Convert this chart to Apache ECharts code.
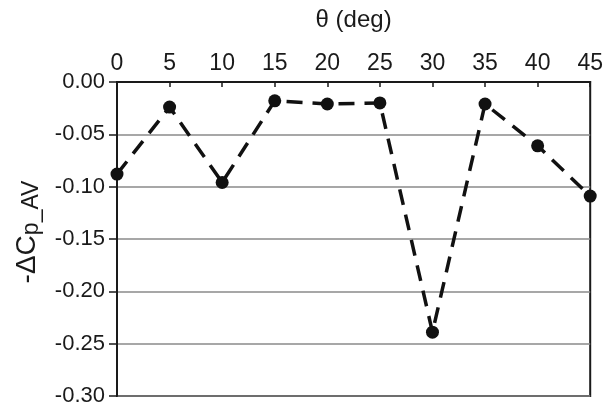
<!DOCTYPE html>
<html>
<head>
<meta charset="utf-8">
<script src="https://cdn.jsdelivr.net/npm/echarts@6/dist/echarts.min.js"></script>
<style>
  html, body { margin: 0; padding: 0; background: #ffffff; }
  #chart { width: 606px; height: 412px; }
</style>
</head>
<body>
<div id="chart"></div>
<script>
// Incidence angle (deg) and the averaged pressure-coefficient change
const thetaDeg = [0, 5, 10, 15, 20, 25, 30, 35, 40, 45];
const deltaCpAv = [-0.088, -0.024, -0.096, -0.018, -0.021, -0.020, -0.239, -0.021, -0.061, -0.109];
const yTicks = [0.00, -0.05, -0.10, -0.15, -0.20, -0.25, -0.30];

const FONT = '"Liberation Sans", Arial, sans-serif';
const INK = '#1a1a1a';
const points = thetaDeg.map((t, i) => [t, deltaCpAv[i]]);

const chart = echarts.init(document.getElementById('chart'), null, { renderer: 'canvas' });
chart.setOption({
  backgroundColor: '#ffffff',
  animation: false,
  grid: {
    left: 117, top: 82, width: 477, height: 314,
    show: true, borderColor: INK, borderWidth: 2, backgroundColor: 'transparent'
  },
  xAxis: {
    type: 'value',
    position: 'top',
    min: 0, max: 45, interval: 5,
    name: 'θ (deg)',
    nameLocation: 'middle',
    nameGap: 50,
    nameTextStyle: { fontFamily: FONT, fontSize: 24, color: INK },
    axisLine: { show: true, lineStyle: { color: INK, width: 2 } },
    axisTick: { show: true, inside: true, length: 5, lineStyle: { color: INK, width: 1.5 } },
    axisLabel: { fontFamily: FONT, fontSize: 23, color: INK, margin: 7 },
    splitLine: { show: false }
  },
  yAxis: {
    type: 'value',
    min: -0.30, max: 0, interval: 0.05,
    name: '{a|-ΔC}{b|p_AV}',
    nameLocation: 'middle',
    nameRotate: 90,
    nameGap: 74,
    nameTextStyle: {
      fontFamily: FONT, color: INK,
      padding: [0, 0, 0, 14],
      rich: {
        a: { fontFamily: FONT, fontSize: 28, color: INK },
        b: { fontFamily: FONT, fontSize: 23, color: INK, padding: [8, 0, 0, 0] }
      }
    },
    axisLine: { show: true, lineStyle: { color: INK, width: 2 } },
    axisTick: { show: true, inside: false, length: 8, lineStyle: { color: INK, width: 1.5 } },
    axisLabel: {
      fontFamily: FONT, fontSize: 22, color: INK, margin: 12,
      formatter: v => {
        const hit = yTicks.find(t => Math.abs(t - v) < 1e-9);
        return hit === undefined ? '' : hit.toFixed(2);
      }
    },
    splitLine: { show: true, lineStyle: { color: '#8a8a8a', width: 1.5 } }
  },
  series: [{
    type: 'line',
    data: points,
    symbol: 'circle',
    symbolSize: 13,
    itemStyle: { color: '#111111' },
    lineStyle: { color: '#111111', width: 3.5, type: [16, 10] },
    clip: false,
    z: 5
  }]
});
</script>
</body>
</html>
